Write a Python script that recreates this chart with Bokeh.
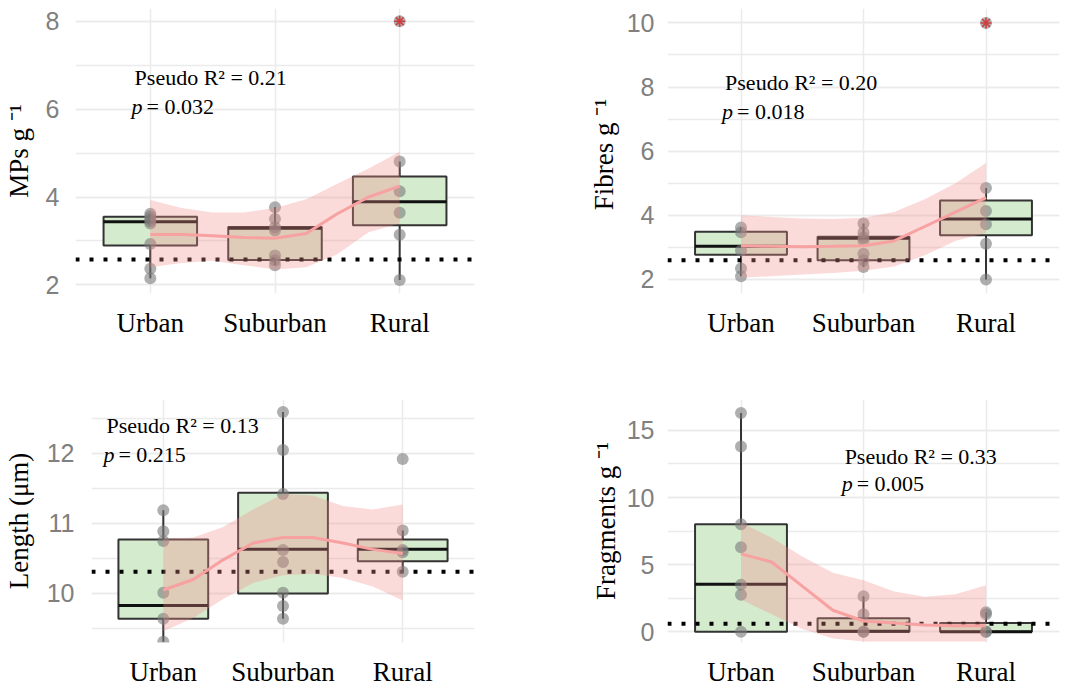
from bokeh.plotting import figure
from bokeh.layouts import column, row
from bokeh.models import Label, Range1d, FixedTicker, SingleIntervalTicker
from bokeh.embed import file_html
from bokeh.resources import INLINE

# ---------------- data ----------------
categories = ["Urban", "Suburban", "Rural"]
cat_x = [1, 2, 3]
smooth_x = [1.0, 1.25, 1.5, 1.75, 2.0, 2.25, 2.5, 2.75, 3.0]

# MPs g-1
mps_urban = [3.62, 3.56, 3.50, 3.45, 3.40, 2.93, 2.37, 2.15]
mps_suburban = [3.77, 3.50, 3.31, 3.24, 2.67, 2.56, 2.45]
mps_rural = [8.0, 4.81, 4.13, 3.64, 3.14, 2.11]
mps_q1 = [2.90, 2.57, 3.36]
mps_med = [3.44, 3.29, 3.89]
mps_q3 = [3.55, 3.32, 4.47]
mps_lo = [2.15, 2.45, 2.11]
mps_hi = [3.62, 3.77, 4.81]
mps_out_cat = [3]
mps_out = [8.0]
mps_ref = 2.58
mps_fit = [3.15, 3.15, 3.12, 3.08, 3.06, 3.17, 3.62, 4.00, 4.25]
mps_lwr = [2.40, 2.50, 2.55, 2.45, 2.35, 2.40, 2.70, 3.20, 3.40]
mps_upr = [3.93, 3.75, 3.65, 3.65, 3.75, 3.95, 4.30, 4.65, 5.03]
mps_r2, mps_p = "0.21", "0.032"

# Fibres g-1
fib_urban = [3.62, 3.47, 2.90, 2.34, 2.10]
fib_suburban = [3.74, 3.47, 3.31, 3.21, 2.80, 2.60, 2.39]
fib_rural = [10.0, 4.85, 4.13, 3.72, 3.11, 2.00]
fib_q1 = [2.77, 2.60, 3.38]
fib_med = [3.03, 3.28, 3.88]
fib_q3 = [3.49, 3.33, 4.46]
fib_lo = [2.10, 2.39, 2.00]
fib_hi = [3.62, 3.74, 4.85]
fib_out_cat = [3]
fib_out = [10.0]
fib_ref = 2.60
fib_fit = [3.05, 3.03, 3.02, 3.03, 3.05, 3.20, 3.65, 4.10, 4.55]
fib_lwr = [2.05, 2.10, 2.15, 2.20, 2.27, 2.40, 2.75, 3.20, 3.45]
fib_upr = [4.00, 3.95, 3.90, 3.88, 3.92, 4.10, 4.50, 5.00, 5.63]
fib_r2, fib_p = "0.20", "0.018"

# Length (um)
len_urban = [11.19, 10.89, 10.75, 10.01, 9.64, 9.31]
len_suburban = [12.59, 12.05, 11.42, 10.62, 10.45, 10.01, 9.82, 9.64]
len_rural = [11.92, 10.90, 10.62, 10.59, 10.31]
len_q1 = [9.64, 10.00, 10.46]
len_med = [9.83, 10.63, 10.63]
len_q3 = [10.77, 11.44, 10.77]
len_lo = [9.31, 9.64, 10.31]
len_hi = [11.19, 12.59, 10.90]
len_out_cat = []
len_out = []
len_ref = 10.31
len_fit = [10.05, 10.20, 10.48, 10.72, 10.80, 10.80, 10.72, 10.63, 10.57]
len_lwr = [9.46, 9.65, 9.92, 10.15, 10.26, 10.28, 10.22, 10.10, 9.90]
len_upr = [10.78, 10.80, 10.95, 11.20, 11.42, 11.40, 11.25, 11.20, 11.27]
len_r2, len_p = "0.13", "0.215"

# Fragments g-1
frg_urban = [16.3, 13.8, 8.0, 6.3, 3.5, 2.75, 0.0]
frg_suburban = [2.65, 1.30, 0.0, 0.0]
frg_rural = [1.45, 1.30, 0.0, 0.0]
frg_q1 = [0.0, 0.0, 0.0]
frg_med = [3.53, 0.03, 0.0]
frg_q3 = [8.0, 1.0, 0.65]
frg_lo = [0.0, 0.0, 0.0]
frg_hi = [16.3, 2.65, 1.45]
frg_out_cat = []
frg_out = []
frg_ref = 0.6
frg_fit = [5.80, 5.20, 3.40, 1.60, 0.80, 0.65, 0.50, 0.45, 0.45]
frg_lwr = [2.40, 1.30, 0.20, -0.50, -0.72, -0.72, -0.72, -0.72, -0.72]
frg_upr = [8.13, 7.00, 5.60, 4.40, 3.83, 3.00, 2.60, 2.80, 3.47]
frg_r2, frg_p = "0.33", "0.005"

# ---------------- style ----------------
X_RANGE = (0.4, 3.6)
BOX_W = 0.75
SERIF = "Liberation Serif"
SANS = "Liberation Sans"
GRID = "#ebebeb"
BOX_FILL = "#d3eacb"
EDGE = "#333333"
RIBBON = "#f28b8b"
FIT = "#f7a1a1"
PT = "#7a7a7a"


def panel(groups, q1, med, q3, lo, hi, out_cat, out_y, ref, fit, lwr, upr,
          r2, pv, ylabel, yr, yint, size, borders, tick_standoff,
          title_standoff, txt):
    w, h = size
    L, R, T, B = borders
    p = figure(width=w, height=h, x_range=Range1d(*X_RANGE),
               y_range=Range1d(*yr), output_backend="svg",
               toolbar_location=None, min_border_left=L,
               min_border_right=R, min_border_top=T, min_border_bottom=B)
    p.outline_line_color = None
    p.background_fill_color = "white"
    p.border_fill_color = "white"

    # axes
    xt = FixedTicker(ticks=cat_x)
    p.xaxis.ticker = xt
    p.xaxis.major_label_overrides = {x: c for x, c in zip(cat_x, categories)}
    yt = SingleIntervalTicker(interval=yint, num_minor_ticks=2)
    p.yaxis.ticker = yt
    for ax in (p.xaxis, p.yaxis):
        ax.axis_line_color = None
        ax.major_tick_line_color = None
        ax.minor_tick_line_color = None
        ax.major_tick_out = 0
        ax.major_tick_in = 0
        ax.minor_tick_out = 0
        ax.minor_tick_in = 0
    p.xaxis.major_label_text_font = SERIF
    p.xaxis.major_label_text_font_size = "27px"
    p.xaxis.major_label_text_color = "black"
    p.xaxis.major_label_standoff = 14
    p.yaxis.major_label_text_font = SANS
    p.yaxis.major_label_text_font_size = "25px"
    p.yaxis.major_label_text_color = "#808080"
    p.yaxis.major_label_standoff = tick_standoff
    p.yaxis.axis_label = ylabel
    p.yaxis.axis_label_text_font = SERIF
    p.yaxis.axis_label_text_font_size = "27px"
    p.yaxis.axis_label_text_font_style = "normal"
    p.yaxis.axis_label_text_color = "black"
    p.yaxis.axis_label_standoff = title_standoff

    # grid
    p.xgrid.ticker = xt
    p.ygrid.ticker = yt
    p.xgrid.grid_line_color = GRID
    p.xgrid.grid_line_width = 1.5
    p.ygrid.grid_line_color = GRID
    p.ygrid.grid_line_width = 1.5
    p.ygrid.minor_grid_line_color = GRID
    p.ygrid.minor_grid_line_width = 1.5

    # boxes
    p.vbar(x=cat_x, width=BOX_W, bottom=q1, top=q3, fill_color=BOX_FILL,
           fill_alpha=0.95, line_color=EDGE, line_width=2)
    p.segment(x0=cat_x, x1=cat_x, y0=q3, y1=hi, line_color=EDGE,
              line_width=2)
    p.segment(x0=cat_x, x1=cat_x, y0=q1, y1=lo, line_color=EDGE,
              line_width=2)
    p.segment(x0=[x - BOX_W / 2 for x in cat_x],
              x1=[x + BOX_W / 2 for x in cat_x], y0=med, y1=med,
              line_color="#111111", line_width=3)

    # reference dotted line
    p.segment(x0=[X_RANGE[0]], x1=[X_RANGE[1]], y0=[ref], y1=[ref],
              line_color="black", line_width=4, line_dash="4 10",
              line_cap="butt")

    # points
    px, py = [], []
    for x, vals in zip(cat_x, groups):
        px += [x] * len(vals)
        py += vals
    p.scatter(px, py, size=12, fill_color=PT, line_color=None,
              fill_alpha=0.6)
    if out_y:
        p.scatter(out_cat, out_y, marker="asterisk", size=11,
                  line_color="#d62728", line_width=1.6, line_alpha=0.8)

    # smoother
    p.varea(x=smooth_x, y1=lwr, y2=upr, fill_color=RIBBON, fill_alpha=0.32)
    p.line(smooth_x, fit, line_color=FIT, line_width=3)

    # annotation text
    tx, ty1, ty2 = txt
    p.add_layout(Label(x=tx, y=ty1, text="Pseudo R\u00b2 = " + r2,
                       text_font=SERIF, text_font_size="22px",
                       text_baseline="alphabetic", text_color="black"))
    p.add_layout(Label(x=tx, y=ty2, x_offset=-3, text="p",
                       text_font=SERIF, text_font_size="22px",
                       text_font_style="italic",
                       text_baseline="alphabetic", text_color="black"))
    p.add_layout(Label(x=tx, y=ty2, x_offset=12, text="= " + pv,
                       text_font=SERIF, text_font_size="22px",
                       text_baseline="alphabetic", text_color="black"))
    return p


f1 = panel([mps_urban, mps_suburban, mps_rural], mps_q1, mps_med, mps_q3,
           mps_lo, mps_hi, mps_out_cat, mps_out, mps_ref, mps_fit, mps_lwr,
           mps_upr, mps_r2, mps_p, "MPs g \u207b\u00b9", (1.805, 8.29), 2,
           (532, 340), (68, 58, 8, 43), 16, 9, (0.874, 6.72, 6.05))
f2 = panel([fib_urban, fib_suburban, fib_rural], fib_q1, fib_med, fib_q3,
           fib_lo, fib_hi, fib_out_cat, fib_out, fib_ref, fib_fit, fib_lwr,
           fib_upr, fib_r2, fib_p, "Fibres  g \u207b\u00b9", (1.56, 10.45), 2,
           (531, 340), (135, 4, 8, 43), 13, 5, (0.87, 8.14, 7.25))
f3 = panel([len_urban, len_suburban, len_rural], len_q1, len_med, len_q3,
           len_lo, len_hi, len_out_cat, len_out, len_ref, len_fit, len_lwr,
           len_upr, len_r2, len_p, "Length (\u03bcm)", (9.3, 12.77), 1,
           (532, 349), (84, 58, 59, 46), 17, 10, (0.525, 12.40, 11.99))
f4 = panel([frg_urban, frg_suburban, frg_rural], frg_q1, frg_med, frg_q3,
           frg_lo, frg_hi, frg_out_cat, frg_out, frg_ref, frg_fit, frg_lwr,
           frg_upr, frg_r2, frg_p, "Fragments g \u207b\u00b9", (-0.8, 17.3), 5,
           (531, 349), (135, 4, 58, 39), 13, 3, (1.846, 13.03, 11.04))

layout = column(row(f1, f2), row(f3, f4))
open("out.html", "w").write(file_html(layout, INLINE))
